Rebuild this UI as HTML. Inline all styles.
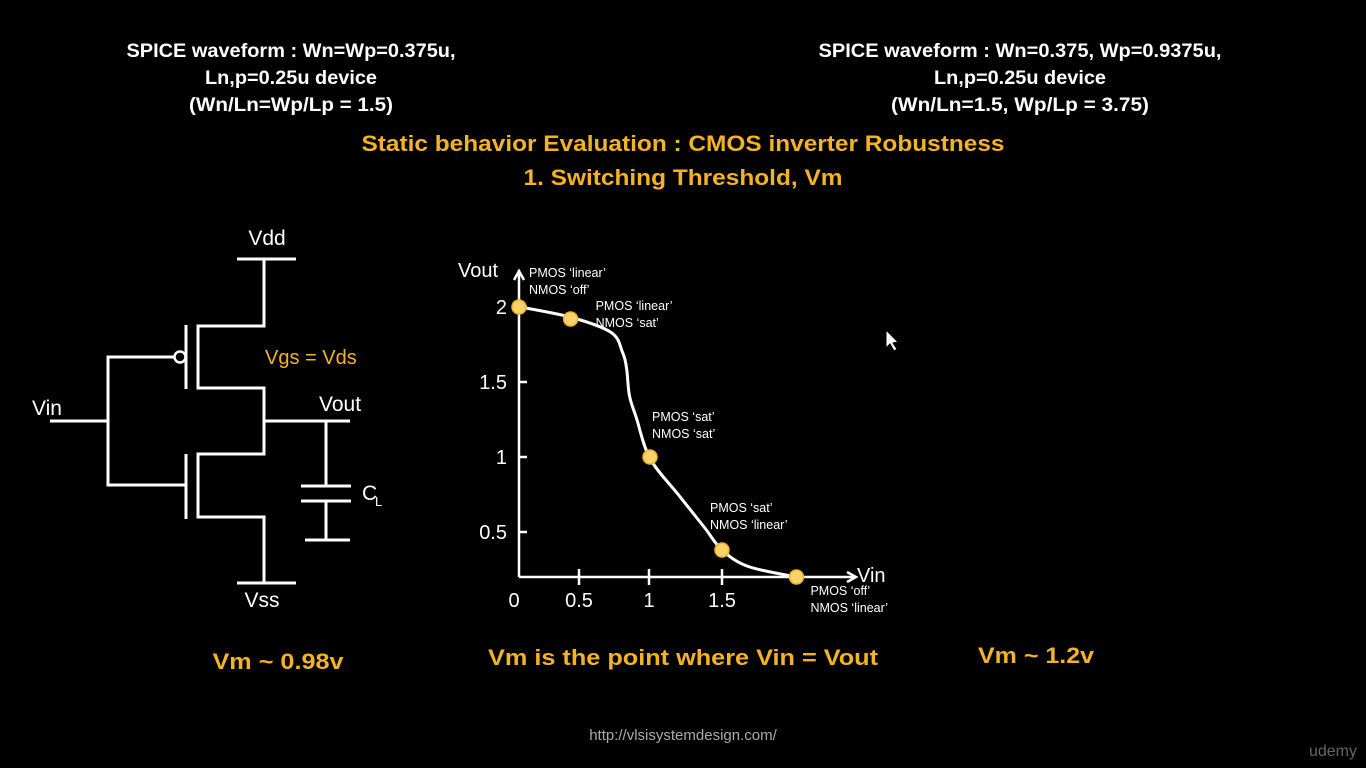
<!DOCTYPE html>
<html><head><meta charset="utf-8"><style>
html,body{margin:0;padding:0;background:#000;width:1366px;height:768px;overflow:hidden}
svg{display:block}
text{font-family:"Liberation Sans",sans-serif}
.w{fill:#fff}.o{fill:#f5b324}.b{font-weight:bold}
.ln{stroke:#fff;stroke-width:3;fill:none}
</style></head><body>
<svg id="s" width="1366" height="768" viewBox="0 0 1366 768">
<g class="w b" font-size="19" text-anchor="middle">
<text x="291" y="57" textLength="329" lengthAdjust="spacingAndGlyphs">SPICE waveform : Wn=Wp=0.375u,</text>
<text x="291" y="84" textLength="172" lengthAdjust="spacingAndGlyphs">Ln,p=0.25u device</text>
<text x="291" y="111" textLength="204" lengthAdjust="spacingAndGlyphs">(Wn/Ln=Wp/Lp = 1.5)</text>
</g>
<g class="w b" font-size="19" text-anchor="middle">
<text x="1020" y="57" textLength="403" lengthAdjust="spacingAndGlyphs">SPICE waveform : Wn=0.375, Wp=0.9375u,</text>
<text x="1020" y="84" textLength="172" lengthAdjust="spacingAndGlyphs">Ln,p=0.25u device</text>
<text x="1020" y="111" textLength="258" lengthAdjust="spacingAndGlyphs">(Wn/Ln=1.5, Wp/Lp = 3.75)</text>
</g>
<g class="o b" font-size="22" text-anchor="middle">
<text x="683" y="151" textLength="643" lengthAdjust="spacingAndGlyphs">Static behavior Evaluation : CMOS inverter Robustness</text>
<text x="683" y="185" textLength="319" lengthAdjust="spacingAndGlyphs">1. Switching Threshold, Vm</text>
</g>
<g>
<path class="ln" d="M237 259H296M264 259V326H198V388H264V454H198V517H264V583M237 583H296M186 325V389M186 454V519M175 357H108V485H186M50 421H108M264 421H350M326 421V486M301 486H351M301 501H351M326 501V540M305 540H350"/>
<circle cx="180" cy="357" r="5.5" fill="#000" stroke="#fff" stroke-width="2.5"/>
<g class="w" font-size="21">
<text x="267" y="245" text-anchor="middle">Vdd</text>
<text x="32" y="415">Vin</text>
<text x="319" y="411">Vout</text>
<text x="262" y="607" text-anchor="middle">Vss</text>
<text x="362" y="500">C</text><text x="375" y="506" font-size="13">L</text>
</g>
<text class="o" x="265" y="364" font-size="20">Vgs = Vds</text>
</g>
<g id="chart"></g>
<g class="o b" font-size="22">
<text x="278" y="669" text-anchor="middle" textLength="131" lengthAdjust="spacingAndGlyphs">Vm ~ 0.98v</text>
<text x="683" y="665" text-anchor="middle" textLength="390" lengthAdjust="spacingAndGlyphs">Vm is the point where Vin = Vout</text>
<text x="1036" y="663" text-anchor="middle" textLength="116" lengthAdjust="spacingAndGlyphs">Vm ~ 1.2v</text>
</g>
<text x="683" y="740" text-anchor="middle" fill="#aaa" font-size="15">http://vlsisystemdesign.com/</text>
<text x="1357" y="756" text-anchor="end" fill="#666" font-size="16">udemy</text>
<path d="M886 330L886 348L890 344L894 351L897 349L893 343L898 342Z" fill="#fff" stroke="#000"/>
</svg>
<script>
const vinValues=[0.01,0.44,0.73,0.81,0.84,0.86,0.91,1.007,1.2,1.38,1.5,1.68,2.01];
const voutValues=[2.0,1.93,1.83,1.70,1.59,1.41,1.26,0.99,0.75,0.53,0.38,0.27,0.20];
const pointVin=[0,0.43,1.007,1.5,2.01];
const pointVout=[2.0,1.92,1.0,0.38,0.2];
const pointLabels=[["PMOS ‘linear’","NMOS ‘off’"],["PMOS ‘linear’","NMOS ‘sat’"],["PMOS ‘sat’","NMOS ‘sat’"],["PMOS ‘sat’","NMOS ‘linear’"],["PMOS ‘off’","NMOS ‘linear’"]];
const xTicks=[0.5,1,1.5];
const xTickLabels=["0","0.5","1","1.5"];
const yTicks=[0.5,1,1.5,2];
const yTickLabels=["0.5","1","1.5","2"];
const xBreakVals=[0,0.5,1,1.5];
const xBreakPix=[519,579,649,722];
function X(v){const bv=xBreakVals,bp=xBreakPix;let i=0;while(i<bv.length-2&&v>bv[i+1])i++;return bp[i]+(v-bv[i])*(bp[i+1]-bp[i])/(bv[i+1]-bv[i]);}
const Y=v=>607-v*150;
const NS="http://www.w3.org/2000/svg", g=document.getElementById('chart');
function mk(t,a,p){const e=document.createElementNS(NS,t);for(const k in a)e.setAttribute(k,a[k]);(p||g).appendChild(e);return e;}
const axisY=Y(0.2);
let ax=mk('path',{d:`M${X(0)} ${axisY}V272M${X(0)-5} 280L${X(0)} 271L${X(0)+5} 280M${X(0)} ${axisY}H855M847 ${axisY-5}L856 ${axisY}L847 ${axisY+5}`,stroke:'#fff','stroke-width':2.5,fill:'none'});


xTicks.forEach(v=>{let t=mk('line',{x1:X(v),x2:X(v),y1:axisY-8,y2:axisY+8,stroke:'#fff','stroke-width':2.5});

});
yTicks.forEach(v=>{let t=mk('line',{x1:X(0),x2:X(0)+8,y1:Y(v),y2:Y(v),stroke:'#fff','stroke-width':2.5});

});
[0].concat(xTicks).forEach((v,i)=>{let t=mk('text',{x:v===0?514:X(v),y:607,fill:'#fff','font-size':20,'text-anchor':'middle'});t.textContent=xTickLabels[i];

});
yTicks.forEach((v,i)=>{let t=mk('text',{x:507,y:Y(v)+7,fill:'#fff','font-size':20,'text-anchor':'end'});t.textContent=yTickLabels[i];

});
let vt=mk('text',{x:458,y:277,fill:'#fff','font-size':20});vt.textContent='Vout';


let vi=mk('text',{x:857,y:582,fill:'#fff','font-size':20});vi.textContent='Vin';


const P=vinValues.map((v,i)=>[X(v),Y(voutValues[i])]);
let d=`M${P[0][0]} ${P[0][1]}`;
for(let i=0;i<P.length-1;i++){const p0=P[Math.max(i-1,0)],p1=P[i],p2=P[i+1],p3=P[Math.min(i+2,P.length-1)];
d+=`C${p1[0]+(p2[0]-p0[0])/6} ${p1[1]+(p2[1]-p0[1])/6} ${p2[0]-(p3[0]-p1[0])/6} ${p2[1]-(p3[1]-p1[1])/6} ${p2[0]} ${p2[1]}`;}
let c=mk('path',{d,stroke:'#fff','stroke-width':3,fill:'none'});


const off=[[10,-30],[25,-9],[2,-36],[-12,-38],[14,18]];
pointVin.forEach((v,i)=>{let dt=mk('circle',{cx:X(v),cy:Y(pointVout[i]),r:7,fill:'#f7d36a',stroke:'#f0b429','stroke-width':1.5});


let t=mk('text',{x:X(v)+off[i][0],y:Y(pointVout[i])+off[i][1],fill:'#fff','font-size':12.5});


pointLabels[i].forEach((s,j)=>{let ts=mk('tspan',{x:X(v)+off[i][0],dy:j?17:0},t);ts.textContent=s;});});
</script>
</body></html>
